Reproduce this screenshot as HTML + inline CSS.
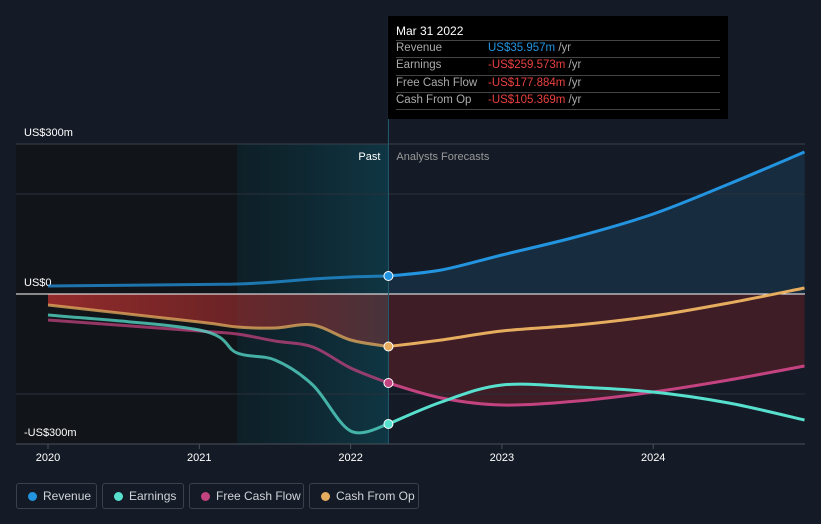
<!DOCTYPE html>
<html><head><meta charset="utf-8"><style>
body{margin:0;background:#151b26;font-family:"Liberation Sans",sans-serif;}
svg{display:block}
.leg{position:absolute;top:483px;height:26px;border:1px solid #3a404c;border-radius:3px;box-sizing:border-box;color:#d0d3d8;font-size:12px;line-height:24px;padding-left:26px}
.leg i{position:absolute;left:11px;top:8px;width:9px;height:9px;border-radius:50%}
</style></head><body>
<div style="position:relative;width:821px;height:524px;overflow:hidden">
<svg id="c" width="821" height="524"></svg>
<div class="leg" style="left:16px;width:81px"><i style="background:#2394df"></i>Revenue</div>
<div class="leg" style="left:102px;width:82px"><i style="background:#58e0cf"></i>Earnings</div>
<div class="leg" style="left:189px;width:115px"><i style="background:#c2437f"></i>Free Cash Flow</div>
<div class="leg" style="left:309px;width:110px"><i style="background:#e6ad5f"></i>Cash From Op</div>
<div style="position:absolute;left:388px;top:16px;width:340px;height:103px;background:#000;color:#fff;font-size:11.5px">
<div style="position:absolute;left:8px;top:8px;font-size:12px">Mar 31 2022</div>
<div style="position:absolute;left:8px;right:8px;top:24px;border-top:1px solid #444"></div>
<div style="position:absolute;left:8px;right:8px;top:41px;border-top:1px solid #444"></div>
<div style="position:absolute;left:8px;right:8px;top:59px;border-top:1px solid #444"></div>
<div style="position:absolute;left:8px;right:8px;top:76px;border-top:1px solid #444"></div>
<div style="position:absolute;left:8px;right:8px;top:93px;border-top:1px solid #444"></div>
<div style="position:absolute;left:8px;top:26px;color:#aaa">Revenue</div><div style="position:absolute;left:100px;top:26px;color:#aaa"><span style="color:#2394df">US$35.957m</span> /yr</div>
<div style="position:absolute;left:8px;top:43px;color:#aaa">Earnings</div><div style="position:absolute;left:100px;top:43px;color:#aaa"><span style="color:#e8403f">-US$259.573m</span> /yr</div>
<div style="position:absolute;left:8px;top:61px;color:#aaa">Free Cash Flow</div><div style="position:absolute;left:100px;top:61px;color:#aaa"><span style="color:#e8403f">-US$177.884m</span> /yr</div>
<div style="position:absolute;left:8px;top:78px;color:#aaa">Cash From Op</div><div style="position:absolute;left:100px;top:78px;color:#aaa"><span style="color:#e8403f">-US$105.369m</span> /yr</div>
</div>
</div>
<script>
const years=[2020,2021,2021.25,2021.5,2021.75,2022,2022.25,2022.6,2023,2023.5,2024,2024.5,2025];
const revenue=[16,19,20,24,30,34,36,48,78,115,160,220,284];
const earnings=[-42,-72,-118,-132,-182,-274,-260,-216,-182,-186,-196,-218,-252];
const fcf=[-52,-74,-80,-94,-106,-148,-178,-208,-222,-214,-196,-172,-144];
const cfo=[-22,-56,-66,-68,-62,-92,-105,-92,-74,-62,-44,-18,12];
const yTicks=[300,0,-300];const yLabels=["US$300m","US$0","-US$300m"];
const xTicks=[2020,2021,2022,2023,2024];
const nowX=2022.25;
const X=v=>48+(v-2020)*151.3, Y=v=>294-v*0.5;
const svg=document.getElementById('c'),NS='http://www.w3.org/2000/svg';
function el(t,a,p){const e=document.createElementNS(NS,t);for(const k in a)e.setAttribute(k,a[k]);(p||svg).appendChild(e);return e;}
svg.innerHTML='<defs><linearGradient id="band" x1="0" x2="1"><stop offset="0" stop-color="#0c2630" stop-opacity=".6"/><stop offset="1" stop-color="#0f3a48" stop-opacity=".9"/></linearGradient><linearGradient id="red" x1="0" x2="1"><stop offset="0" stop-color="#b3302f" stop-opacity=".8"/><stop offset="1" stop-color="#b3302f" stop-opacity=".35"/></linearGradient></defs>';
el('rect',{x:16,y:144,width:372,height:300,fill:'#111419'});
el('rect',{x:X(2021.25),y:144,width:X(nowX)-X(2021.25),height:300,fill:'url(#band)'});
function pts(arr,f){const p=[];years.forEach((y,i)=>{if(f(y))p.push([X(y),Y(arr[i])]);});return p;}
function path(p){let d='M'+p[0];for(let i=0;i<p.length-1;i++){const p0=p[i-1]||p[i],p1=p[i],p2=p[i+1],p3=p[i+2]||p2;d+=' C'+(p1[0]+(p2[0]-p0[0])/6)+','+(p1[1]+(p2[1]-p0[1])/6)+' '+(p2[0]-(p3[0]-p1[0])/6)+','+(p2[1]-(p3[1]-p1[1])/6)+' '+p2;}return d;}
const past=y=>y<=nowX, fut=y=>y>=nowX;
let p=pts(cfo,past);el('path',{d:path(p)+` L${X(nowX)},${Y(0)} L${X(2020)},${Y(0)}Z`,fill:'url(#red)'});
p=pts(fcf,fut);el('path',{d:path(p)+` L${X(2025)},${Y(0)} L${X(nowX)},${Y(0)}Z`,fill:'#5a1f27',opacity:.6});
p=pts(revenue,fut);el('path',{d:path(p)+` L${X(2025)},${Y(0)} L${X(nowX)},${Y(0)}Z`,fill:'#1c3a55',opacity:.55});
[200,-200].forEach(v=>el('line',{x1:16,x2:805,y1:Y(v),y2:Y(v),stroke:'#2a303b'}));
el('line',{x1:16,x2:805,y1:Y(300),y2:Y(300),stroke:'#3a404a'});
el('line',{x1:16,x2:805,y1:Y(0),y2:Y(0),stroke:'#fff'});
el('line',{x1:16,x2:805,y1:444,y2:444,stroke:'#4a505a'});
el('line',{x1:X(nowX),x2:X(nowX),y1:16,y2:444,stroke:'#1f5e70'});
yTicks.forEach((v,i)=>{const t=el('text',{x:24,y:v<0?Y(v)-8:Y(v)-8,fill:'#fff','font-size':11});t.textContent=yLabels[i];

});
xTicks.forEach(v=>{el('line',{x1:X(v),x2:X(v),y1:444,y2:449,stroke:'#4a505a'});const t=el('text',{x:X(v),y:461,fill:'#fff','font-size':11,'text-anchor':'middle'});t.textContent=v;

});
let t=el('text',{x:X(nowX)-8,y:160,fill:'#fff','font-size':11,'text-anchor':'end'});t.textContent='Past';
t=el('text',{x:X(nowX)+8,y:160,fill:'#999','font-size':11});t.textContent='Analysts Forecasts';
const series=[[revenue,'#2394df','revenue'],[cfo,'#e6ad5f','cash-from-op'],[fcf,'#c2437f','free-cash-flow'],[earnings,'#58e0cf','earnings']];
series.forEach(([a,c,n])=>{
const l1=el('path',{d:path(pts(a,past)),stroke:c,'stroke-width':3,fill:'none',opacity:.75});


const l2=el('path',{d:path(pts(a,fut)),stroke:c,'stroke-width':3,fill:'none'});


const i=years.indexOf(nowX);
const d=el('circle',{cx:X(nowX),cy:Y(a[i]),r:4.5,fill:c,stroke:'#fff','stroke-width':1});


});
</script>
</body></html>
